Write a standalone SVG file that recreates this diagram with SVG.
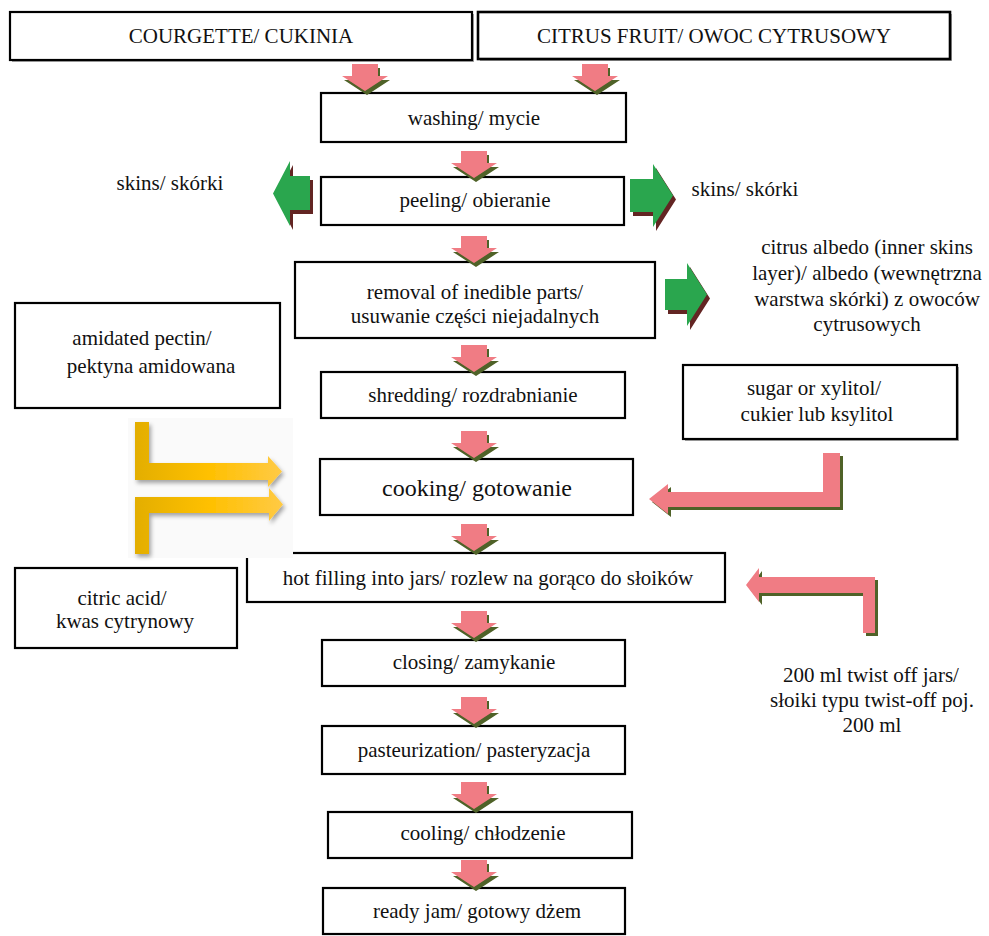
<svg xmlns="http://www.w3.org/2000/svg" width="989" height="936" viewBox="0 0 989 936">
<style>
.box{fill:#fff;stroke:#000;stroke-width:2.2}
.sh{fill:#a6a6a6}
.t{font-family:"Liberation Serif","Times New Roman",serif;font-size:21px;fill:#111;text-anchor:middle}
.pk{fill:#F07C84}
.ol{fill:#4F6228}
.gr{fill:#2AA64E}
.mr{fill:#632523}
</style>
<defs>
<g id="dn">
<path class="ol" d="M-11,4 H15 V16 H25 L2,31 L-21,16 H-11 Z"/>
<path class="pk" d="M-13,0 H13 V12 H23 L0,27 L-23,12 H-13 Z"/>
</g>
<linearGradient id="yg" x1="0" y1="0" x2="1" y2="0">
<stop offset="0" stop-color="#E3AE00"/>
<stop offset="0.5" stop-color="#FFC000"/>
<stop offset="1" stop-color="#FFCA45"/>
</linearGradient>
<filter id="ds" x="-10%" y="-10%" width="130%" height="130%">
<feDropShadow dx="2" dy="3" stdDeviation="2" flood-color="#000" flood-opacity="0.35"/>
</filter>
</defs>

<g id="courgette">
<rect class="sh" x="12" y="14" width="462" height="48"/>
<rect class="box" x="10" y="12" width="462" height="48"/>
<text class="t" x="241" y="43">COURGETTE/ CUKINIA</text>
</g>
<g id="citrus">
<rect class="sh" x="480" y="14" width="472" height="47"/>
<rect class="box" x="478" y="12" width="472" height="47" style="stroke-width:2.6"/>
<text class="t" x="714" y="43">CITRUS FRUIT/ OWOC CYTRUSOWY</text>
</g>
<g id="washing">
<rect class="box" x="321" y="93" width="305" height="49"/>
<text class="t" x="474" y="125">washing/ mycie</text>
</g>
<g id="peeling">
<rect class="box" x="321" y="177" width="303" height="48"/>
<text class="t" x="475" y="207">peeling/ obieranie</text>
</g>
<g id="skins-left">
<text class="t" x="170" y="190">skins/ skórki</text>
</g>
<g id="skins-right">
<text class="t" x="745" y="196">skins/ skórki</text>
</g>
<g id="removal">
<rect class="box" x="295" y="262" width="360" height="76"/>
<text class="t" x="475" y="299">removal of inedible parts/</text>
<text class="t" x="475" y="323">usuwanie części niejadalnych</text>
</g>
<g id="albedo">
<text class="t" x="867" y="254">citrus albedo (inner skins</text>
<text class="t" x="867" y="280">layer)/ albedo (wewnętrzna</text>
<text class="t" x="867" y="306">warstwa skórki) z owoców</text>
<text class="t" x="867" y="331">cytrusowych</text>
</g>
<g id="pectin">
<rect class="box" x="15" y="303" width="265" height="105"/>
<text class="t" x="142" y="345">amidated pectin/</text>
<text class="t" x="151" y="373">pektyna amidowana</text>
</g>
<g id="shredding">
<rect class="box" x="321" y="372" width="304" height="46"/>
<text class="t" x="473" y="402">shredding/ rozdrabnianie</text>
</g>
<g id="sugar">
<rect class="sh" x="685" y="367" width="274" height="74"/>
<rect class="box" x="683" y="365" width="274" height="74"/>
<text class="t" x="814" y="395">sugar or xylitol/</text>
<text class="t" x="817" y="421">cukier lub ksylitol</text>
</g>
<g id="cooking">
<rect class="box" x="320" y="459" width="313" height="56"/>
<text class="t" x="477" y="496" style="font-size:24px">cooking/ gotowanie</text>
</g>
<g id="hotfilling">
<rect class="box" x="247" y="553" width="478" height="49"/>
<text class="t" x="488" y="585">hot filling into jars/ rozlew na gorąco do słoików</text>
</g>
<g id="citric">
<rect class="box" x="15" y="568" width="222" height="80"/>
<text class="t" x="122" y="605">citric acid/</text>
<text class="t" x="125" y="628">kwas cytrynowy</text>
</g>
<g id="jars">
<text class="t" x="871" y="682">200 ml twist off jars/</text>
<text class="t" x="872" y="707">słoiki typu twist-off poj.</text>
<text class="t" x="872" y="732">200 ml</text>
</g>
<g id="closing">
<rect class="box" x="322" y="640" width="303" height="46"/>
<text class="t" x="474" y="669">closing/ zamykanie</text>
</g>
<g id="pasteurization">
<rect class="box" x="322" y="726" width="303" height="48"/>
<text class="t" x="474" y="757">pasteurization/ pasteryzacja</text>
</g>
<g id="cooling">
<rect class="box" x="328" y="812" width="304" height="46"/>
<text class="t" x="483" y="840">cooling/ chłodzenie</text>
</g>
<g id="readyjam">
<rect class="box" x="323" y="888" width="302" height="46"/>
<text class="t" x="477" y="918">ready jam/ gotowy dżem</text>
</g>

<g id="connectors">
<use href="#dn" x="365" y="64"/>
<use href="#dn" x="595" y="64"/>
<use href="#dn" x="474" y="151"/>
<use href="#dn" x="474" y="236"/>
<use href="#dn" x="474" y="345"/>
<use href="#dn" x="474" y="431"/>
<use href="#dn" x="474" y="524"/>
<use href="#dn" x="474" y="611"/>
<use href="#dn" x="474" y="697"/>
<use href="#dn" x="474" y="782"/>
<use href="#dn" x="474" y="860"/>

<path class="mr" d="M276,197 L293,165 V180 H313 V214 H293 V230 Z"/>
<path class="gr" d="M273,193.5 L290,161 V176 H310 V210 H290 V226 Z"/>
<path class="mr" d="M633,183 H656 V168 L676,199.5 L656,231 V216 H633 Z"/>
<path class="gr" d="M630,179 H653 V164 L673,195.5 L653,227 V212 H630 Z"/>
<path class="mr" d="M668,283 H690 V267 L710,298.5 L690,330 V314 H668 Z"/>
<path class="gr" d="M665,279 H687 V263 L707,294.5 L687,326 V310 H665 Z"/>

<rect x="128" y="418" width="165" height="140" fill="#FAFAFA"/>
<g filter="url(#ds)">
<path fill="url(#yg)" d="M135,422 H149 V463 H268 V456 L282,471.5 L268,487 V480 H135 Z"/>
<path fill="url(#yg)" d="M135,497 H269 V488 L283,504.5 L269,521 V513 H149 V554 H135 Z"/>
</g>

<path class="ol" d="M826,456 H843 V510 H671 V517 L652,502 L671,487 V495 H826 Z"/>
<path class="pk" d="M823,453 H840 V507 H668 V514 L649,499 L668,484 V492 H823 Z"/>
<path class="ol" d="M878,580 V636 H866 V596 H762 V605 L749,588 L762,571 V580 Z"/>
<path class="pk" d="M875,577 V633 H863 V593 H759 V602 L746,585 L759,568 V577 Z"/>
</g>
</svg>
